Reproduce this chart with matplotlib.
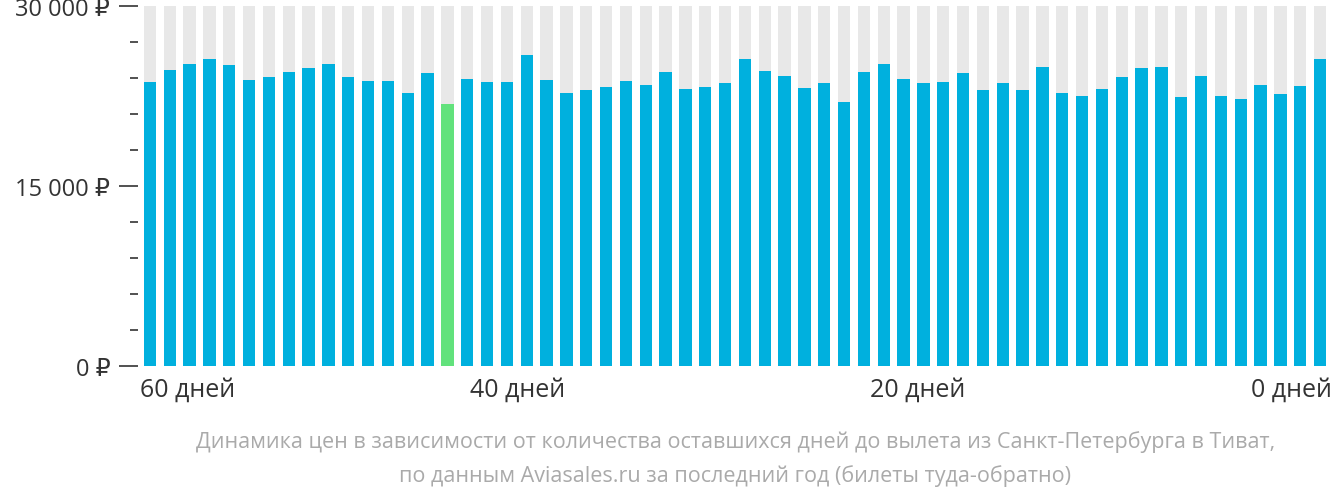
import matplotlib
matplotlib.use("Agg")
import matplotlib.pyplot as plt
from matplotlib.ticker import FixedLocator

plt.rcParams['font.family'] = ['Open Sans', 'DejaVu Sans']

days = list(range(60, 0, -1))
prices = [23630, 24640, 25140, 25560, 25060, 23800, 24050, 24470, 24800, 25140,
          24050, 23720, 23720, 22790, 24390, 21870, 23880, 23630, 23630, 25890,
          23800, 22710, 22960, 23210, 23720, 23380, 24470, 23050, 23210, 23550,
          25560, 24550, 24130, 23130, 23550, 22040, 24470, 25140, 23880, 23550,
          23630, 24390, 22960, 23550, 22960, 24890, 22790, 22540, 23050, 24050,
          24800, 24890, 22380, 24130, 22540, 22290, 23380, 22630, 23300, 25560]
cheapest = 15
major_ticks = [0, 15000, 30000]
major_labels = ["0 ₽", "15 000 ₽", "30 000 ₽"]
x_labels = ["60 дней", "40 дней", "20 дней", "0 дней"]
caption = ("Динамика цен в зависимости от количества оставшихся дней до вылета из Санкт-Петербурга в Тиват,\n"
           "по данным Aviasales.ru за последний год (билеты туда-обратно)")

fig = plt.figure(figsize=(13.32, 5.02), dpi=100)
ax = fig.add_axes([138/1332, 135/502, 1 - 138/1332, 360/502])
n = len(prices)
xs = list(range(n))
ax.bar(xs, [30000]*n, width=0.62, color="#e8e8e8", zorder=1)
colors = ["#62e27c" if i == cheapest else "#00b0de" for i in xs]
ax.bar(xs, prices, width=0.62, color=colors, zorder=2)
ax.set_xlim(-0.5 - 0.1, n - 0.5 + 0.1)
ax.set_ylim(0, 30000)
for s in ax.spines.values():
    s.set_visible(False)
ax.yaxis.set_major_locator(FixedLocator(major_ticks))
ax.set_yticklabels(major_labels, fontsize=17, color="#333333")
ax.yaxis.set_minor_locator(FixedLocator([v for v in range(3000, 30000, 3000) if v != 15000]))
ax.tick_params(axis='y', which='major', length=14, width=1.2, color="#333333", pad=6)
ax.tick_params(axis='y', which='minor', length=6, width=1.2, color="#333333", pad=6)
ax.tick_params(axis='x', length=0)
ax.set_xticks([])
pos = [(0.002, 'left'), (0.278, 'left'), (0.613, 'left'), (1.0, 'right')]
for (p, ha), lab in zip(pos, x_labels):
    ax.text(p, -0.03, lab, transform=ax.transAxes, ha=ha, va='top', fontsize=18, color="#333333")
fig.text(0.552, 0.142, caption, ha='center', va='top', fontsize=15.5, color="#aaaaaa", linespacing=1.75)
fig.savefig("out.png", dpi=100)
